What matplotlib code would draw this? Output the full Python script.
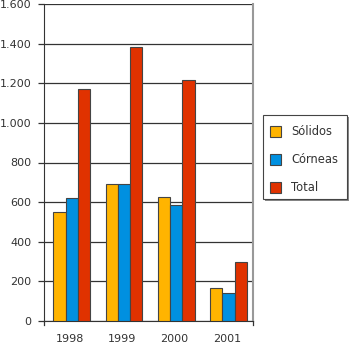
import matplotlib.pyplot as plt
import numpy as np
from matplotlib.patches import Rectangle

years = ['1998', '1999', '2000', '2001']
solidos = [550, 690, 625, 165]
corneas = [620, 690, 585, 140]
total = [1170, 1385, 1215, 300]
labels = ['Sólidos', 'Córneas', 'Total']
colors = ['#FFB400', '#0090E0', '#E03200']

fig = plt.figure(figsize=(3.5, 3.46), dpi=100)
ax = fig.add_axes([44/350, 25/346, 209/350, 317/346])

x = np.arange(len(years))
w = 0.235
for i, (vals, c) in enumerate(zip([solidos, corneas, total], colors)):
    ax.bar(x + (i - 1)*w + 0.03, vals, w, color=c, edgecolor='#444444',
           linewidth=0.8, label=labels[i], zorder=3)

ax.set_xlim(-0.5, 3.5)
ax.set_ylim(0, 1600)
ax.set_yticks(range(0, 1601, 200))
ax.set_yticklabels(['{:,}'.format(v).replace(',', '.') for v in range(0, 1601, 200)])
ax.yaxis.grid(True, color='#333333', linewidth=0.9, zorder=0)
ax.set_xticks(x)
ax.set_xticklabels(years)
ax.tick_params(axis='x', length=0, pad=9, labelsize=8, colors='#333333')
ax.tick_params(axis='y', length=4, width=0.9, pad=5, labelsize=8,
               colors='#333333', direction='out')

ax.spines['top'].set_visible(False)
ax.spines['right'].set_color('#999999')
ax.spines['right'].set_linewidth(1.5)
ax.spines['left'].set_color('#333333')
ax.spines['bottom'].set_color('#333333')
# end ticks on the category axis
for xe in [-0.5, 3.5]:
    ax.plot([xe, xe], [0, -0.013], transform=ax.get_xaxis_transform(),
            color='#333333', linewidth=0.9, clip_on=False)

# legend box with shadow
leg_ax = fig.add_axes([0, 0, 1, 1], facecolor='none')
leg_ax.set_xlim(0, 350)
leg_ax.set_ylim(346, 0)
leg_ax.axis('off')
leg_ax.add_patch(Rectangle((265, 117), 84, 84, facecolor='#888888', edgecolor='none'))
leg_ax.add_patch(Rectangle((263, 115), 84, 84, facecolor='white', edgecolor='#444444', linewidth=0.8))
for i, (lab, c) in enumerate(zip(labels, colors)):
    yy = 131 + i*28
    leg_ax.add_patch(Rectangle((270, yy - 5), 11, 11, facecolor=c, edgecolor='#444444', linewidth=0.8))
    leg_ax.text(291, yy + 0.5, lab, fontsize=8.3, color='#333333', va='center', ha='left')

plt.savefig('out.png', dpi=100)
